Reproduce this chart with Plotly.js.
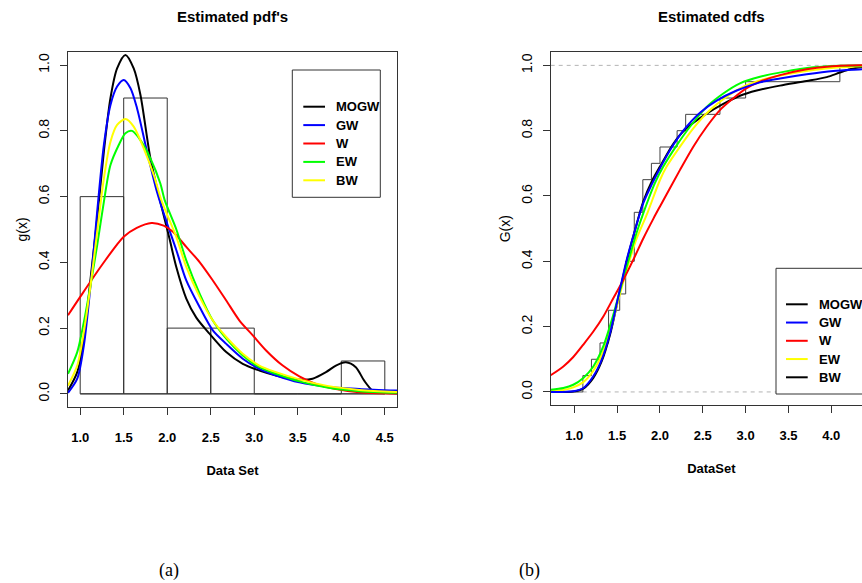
<!DOCTYPE html>
<html>
<head>
<meta charset="utf-8">
<script src="https://cdn.plot.ly/plotly-3.0.1.min.js"></script>
<style>
html,body{margin:0;padding:0;overflow:hidden;background:#fff;width:862px;height:583px}
#chart{width:900px;height:583px}
</style>
</head>
<body>
<div id="chart"></div>
<script>
// ---------------- data ----------------
const histBinCenters = [1.25, 1.75, 2.25, 2.75, 3.25, 3.75, 4.25];
const histDensity    = [0.6, 0.9, 0.2, 0.2, 0, 0, 0.1];
const histBinWidth   = 0.5;

const pdfMOGW_x = [0.86,0.966,1.042,1.119,1.195,1.272,1.348,1.424,1.52,1.615,1.692,1.807,1.921,2.028,2.105,2.219,2.334,2.486,2.678,2.868,3.059,3.25,3.44,3.556,3.67,3.824,3.938,4.053,4.167,4.263,4.358,4.45,4.64];
const pdfMOGW_y = [0.01,0.066,0.168,0.35,0.533,0.737,0.90,0.99,1.031,0.99,0.91,0.716,0.584,0.47,0.385,0.29,0.232,0.183,0.127,0.091,0.071,0.056,0.046,0.043,0.046,0.066,0.086,0.096,0.081,0.04,0.01,0.003,0.001];

const pdfGW_x = [0.86,0.966,1.042,1.119,1.195,1.272,1.348,1.424,1.50,1.578,1.653,1.768,1.882,1.99,2.105,2.219,2.372,2.524,2.678,2.868,3.059,3.25,3.518,3.824,4.206,4.64];
const pdfGW_y = [0.003,0.046,0.147,0.33,0.554,0.757,0.879,0.935,0.955,0.93,0.869,0.737,0.615,0.525,0.437,0.345,0.264,0.193,0.152,0.107,0.076,0.056,0.035,0.022,0.015,0.010];

const pdfW_x = [0.86,1.0,1.25,1.5,1.65,1.818,1.959,2.066,2.219,2.372,2.524,2.678,2.83,2.983,3.136,3.327,3.518,3.709,3.938,4.206,4.64];
const pdfW_y = [0.239,0.295,0.392,0.478,0.505,0.52,0.512,0.493,0.447,0.401,0.345,0.284,0.223,0.178,0.132,0.086,0.053,0.030,0.015,0.005,0.001];

const pdfEW_x = [0.86,0.966,1.042,1.119,1.195,1.272,1.348,1.443,1.52,1.596,1.692,1.807,1.921,1.97,2.105,2.219,2.372,2.524,2.678,2.868,3.059,3.25,3.518,3.824,4.206,4.64];
const pdfEW_y = [0.061,0.127,0.218,0.33,0.452,0.584,0.696,0.757,0.793,0.80,0.772,0.716,0.64,0.59,0.50,0.406,0.305,0.223,0.168,0.117,0.081,0.061,0.038,0.020,0.008,0.003];

const pdfBW_x = [0.86,0.966,1.042,1.119,1.195,1.272,1.348,1.424,1.52,1.615,1.73,1.845,1.933,2.105,2.219,2.372,2.524,2.678,2.868,3.059,3.25,3.518,3.824,4.206,4.64];
const pdfBW_y = [0.025,0.086,0.188,0.33,0.493,0.655,0.767,0.818,0.836,0.813,0.747,0.666,0.589,0.477,0.386,0.295,0.223,0.173,0.122,0.086,0.066,0.044,0.025,0.012,0.006];

// empirical cdf steps
const ecdfX = [1.1,1.2,1.3,1.4,1.53,1.6,1.7,1.8,1.9,2.0,2.2,2.3,2.7,3.0,4.1];
const ecdfY = [0.05,0.10,0.15,0.25,0.30,0.40,0.55,0.65,0.70,0.75,0.80,0.85,0.90,0.95,1.00];

const cdfMOGW_x = [0.724,0.988,1.105,1.222,1.32,1.417,1.514,1.612,1.709,1.805,1.903,2.0,2.156,2.30,2.545,2.739,2.934,3.129,3.40,3.713,3.946,4.10,4.218,4.358,4.475];
const cdfMOGW_y = [0.0,0.001,0.01,0.043,0.094,0.175,0.287,0.40,0.496,0.583,0.644,0.69,0.76,0.805,0.852,0.882,0.907,0.923,0.938,0.952,0.964,0.978,0.988,0.995,0.998];

const cdfGW_x = [0.724,0.988,1.105,1.222,1.32,1.417,1.514,1.612,1.709,1.805,1.903,2.0,2.117,2.272,2.467,2.662,2.896,3.168,3.40,3.713,4.023,4.358,4.475];
const cdfGW_y = [0.0,0.002,0.012,0.048,0.099,0.18,0.292,0.405,0.496,0.578,0.635,0.685,0.74,0.80,0.855,0.892,0.923,0.948,0.96,0.973,0.983,0.988,0.99];

const cdfW_x = [0.724,0.872,0.988,1.105,1.222,1.339,1.455,1.572,1.689,1.805,1.922,2.0,2.234,2.389,2.545,2.70,2.856,3.012,3.168,3.40,3.713,3.946,4.335,4.475];
const cdfW_y = [0.051,0.078,0.107,0.145,0.185,0.231,0.287,0.343,0.405,0.47,0.53,0.568,0.68,0.751,0.812,0.863,0.899,0.93,0.95,0.97,0.988,0.996,1.0,1.0];

const cdfEW_x = [0.724,0.872,0.988,1.105,1.222,1.339,1.437,1.533,1.63,1.728,1.805,1.942,2.039,2.195,2.35,2.545,2.739,2.934,3.168,3.44,3.79,4.10,4.475];
const cdfEW_y = [0.007,0.012,0.022,0.043,0.078,0.14,0.22,0.31,0.40,0.488,0.547,0.64,0.69,0.755,0.812,0.873,0.914,0.945,0.965,0.98,0.994,0.999,1.0];

const cdfBW_x = [0.724,0.872,0.988,1.105,1.222,1.339,1.437,1.533,1.63,1.728,1.852,2.0,2.078,2.234,2.389,2.584,2.779,2.973,3.206,3.479,3.79,4.10,4.475];
const cdfBW_y = [0.003,0.006,0.014,0.03,0.065,0.125,0.205,0.30,0.39,0.47,0.547,0.649,0.69,0.751,0.807,0.863,0.904,0.935,0.957,0.973,0.986,0.994,0.999];

const legendLabels    = ['MOGW','GW','W','EW','BW'];
const pdfLegendColors = ['#000000','#0000FF','#FF0000','#00FF00','#FFFF00'];
const cdfLegendColors = ['#000000','#0000FF','#FF0000','#FFFF00','#000000'];

const xTicksPdf = [1.0,1.5,2.0,2.5,3.0,3.5,4.0,4.5];
const xTicksCdf = [1.0,1.5,2.0,2.5,3.0,3.5,4.0,4.5];
const yTicks    = [0.0,0.2,0.4,0.6,0.8,1.0];

// ---------------- layout helpers ----------------
const W = 900, H = 583;
const px = v => v / W;
const py = v => 1 - v / H;
const FB = '"Liberation Sans", Arial, sans-serif';
const FR = '"Liberation Sans", Arial, sans-serif';
const FS = '"Liberation Serif", "DejaVu Serif", serif';
const frame = '#333333';

const xRangePdf = [0.86, 4.64];
const xRangeCdf = [0.7245, 4.475];
const yRange = [-0.04, 1.04];

function curve(x, y, color, xa, ya) {
  return {type:'scatter', mode:'lines', x:x, y:y, xaxis:xa, yaxis:ya,
          line:{color:color, width:2, shape:'spline', smoothing:0.8},
          showlegend:false, hoverinfo:'skip'};
}

const traces = [];
traces.push({type:'bar', x:histBinCenters, y:histDensity, width:histBinWidth,
  xaxis:'x', yaxis:'y', marker:{color:'rgba(0,0,0,0)', line:{color:frame, width:1}},
  showlegend:false, hoverinfo:'skip'});
traces.push({type:'scatter', mode:'lines',
  x:[histBinCenters[0]-histBinWidth/2, histBinCenters[histBinCenters.length-1]+histBinWidth/2],
  y:[0,0], xaxis:'x', yaxis:'y', line:{color:frame, width:1}, showlegend:false, hoverinfo:'skip'});
traces.push(curve(pdfMOGW_x, pdfMOGW_y, '#000000', 'x', 'y'));
traces.push(curve(pdfGW_x, pdfGW_y, '#0000FF', 'x', 'y'));
traces.push(curve(pdfW_x, pdfW_y, '#FF0000', 'x', 'y'));
traces.push(curve(pdfEW_x, pdfEW_y, '#00FF00', 'x', 'y'));
traces.push(curve(pdfBW_x, pdfBW_y, '#FFFF00', 'x', 'y'));

traces.push({type:'scatter', mode:'lines',
  x:[xRangeCdf[0]].concat(ecdfX, [xRangeCdf[1]]),
  y:[0].concat(ecdfY, [1]),
  xaxis:'x2', yaxis:'y2', line:{color:'#444444', width:1, shape:'hv'},
  showlegend:false, hoverinfo:'skip'});
traces.push(curve(cdfMOGW_x, cdfMOGW_y, '#000000', 'x2', 'y2'));
traces.push(curve(cdfBW_x, cdfBW_y, '#FFFF00', 'x2', 'y2'));
traces.push(curve(cdfEW_x, cdfEW_y, '#00FF00', 'x2', 'y2'));
traces.push(curve(cdfW_x, cdfW_y, '#FF0000', 'x2', 'y2'));
traces.push(curve(cdfGW_x, cdfGW_y, '#0000FF', 'x2', 'y2'));

function xaxis(domain, range, ticks, title) {
  return {domain:domain, range:range, tickvals:ticks, ticktext:ticks.map(v=>v.toFixed(1)),
    ticks:'outside', ticklen:7, tickwidth:1, tickcolor:frame,
    showline:true, linecolor:frame, linewidth:1, mirror:true,
    showgrid:false, zeroline:false, fixedrange:true,
    tickfont:{family:FB, size:13, weight:'bold', color:'#000'},
    ticklabelstandoff:11,
    title:{text:title, font:{family:FB, size:13, weight:'bold', color:'#000'}, standoff:22}};
}
function yaxis(domain, anchor, title) {
  return {domain:domain, range:yRange, anchor:anchor, tickvals:yTicks, ticktext:yTicks.map(v=>v.toFixed(1)),
    ticks:'outside', ticklen:7, tickwidth:1, tickcolor:frame, tickangle:-90,
    showline:true, linecolor:frame, linewidth:1, mirror:true,
    showgrid:false, zeroline:false, fixedrange:true,
    tickfont:{family:FR, size:14, color:'#000'},
    ticklabelstandoff:5,
    title:{text:title, font:{family:FR, size:14, color:'#000'}, standoff:5}};
}

const shapes = [];
const annotations = [];

[0,1].forEach(v => shapes.push({type:'line', xref:'x2 domain', yref:'y2', x0:0, x1:1, y0:v, y1:v,
  line:{color:'#B3B3B3', width:1, dash:'4px,4px'}, layer:'below'}));

function legend(box, lineX0, lineX1, textX, rowY0, rowStep, colors) {
  shapes.push({type:'rect', xref:'paper', yref:'paper', x0:px(box[0]), x1:px(box[1]), y0:py(box[3]), y1:py(box[2]),
    line:{color:frame, width:1}, fillcolor:'rgba(255,255,255,1)', layer:'above'});
  legendLabels.forEach((lab, i) => {
    const yy = rowY0 + i*rowStep;
    shapes.push({type:'line', xref:'paper', yref:'paper', x0:px(lineX0), x1:px(lineX1), y0:py(yy), y1:py(yy),
      line:{color:colors[i], width:2}, layer:'above'});
    annotations.push({xref:'paper', yref:'paper', x:px(textX), y:py(yy), xanchor:'left', yanchor:'middle',
      text:lab, showarrow:false, font:{family:FB, size:13, weight:'bold', color:'#000'}});
  });
}
legend([292.3, 380.3, 70, 197.3], 303.3, 325, 334, 106.7, 18.4, pdfLegendColors);
legend([776, 864, 268.3, 394], 786, 807.7, 817, 304.3, 18.25, cdfLegendColors);

annotations.push({xref:'paper', yref:'paper', x:px(232.3), y:py(17), xanchor:'center', yanchor:'middle',
  text:"Estimated pdf's", showarrow:false, font:{family:FB, size:15, weight:'bold', color:'#000'}});
annotations.push({xref:'paper', yref:'paper', x:px(711.3), y:py(17), xanchor:'center', yanchor:'middle',
  text:'Estimated cdfs', showarrow:false, font:{family:FB, size:15, weight:'bold', color:'#000'}});
annotations.push({xref:'paper', yref:'paper', x:px(169), y:py(570), xanchor:'center', yanchor:'middle',
  text:'(a)', showarrow:false, font:{family:FS, size:18, color:'#000'}});
annotations.push({xref:'paper', yref:'paper', x:px(529), y:py(570), xanchor:'center', yanchor:'middle',
  text:'(b)', showarrow:false, font:{family:FS, size:18, color:'#000'}});

const layout = {
  width:W, height:H, margin:{l:0, r:0, t:0, b:0},
  paper_bgcolor:'#fff', plot_bgcolor:'#fff',
  showlegend:false, bargap:0, barmode:'overlay',
  xaxis: Object.assign(xaxis([px(68), px(397)], xRangePdf, xTicksPdf, 'Data Set'), {anchor:'y'}),
  yaxis: yaxis([1-407/H, 1-52/H], 'x', 'g(x)'),
  xaxis2: Object.assign(xaxis([px(550.7), px(872)], xRangeCdf, xTicksCdf, 'DataSet'), {anchor:'y2'}),
  yaxis2: yaxis([1-405/H, 1-52.3/H], 'x2', 'G(x)'),
  shapes:shapes, annotations:annotations
};

Plotly.newPlot('chart', traces, layout, {staticPlot:true, displayModeBar:false});
</script>
</body>
</html>
